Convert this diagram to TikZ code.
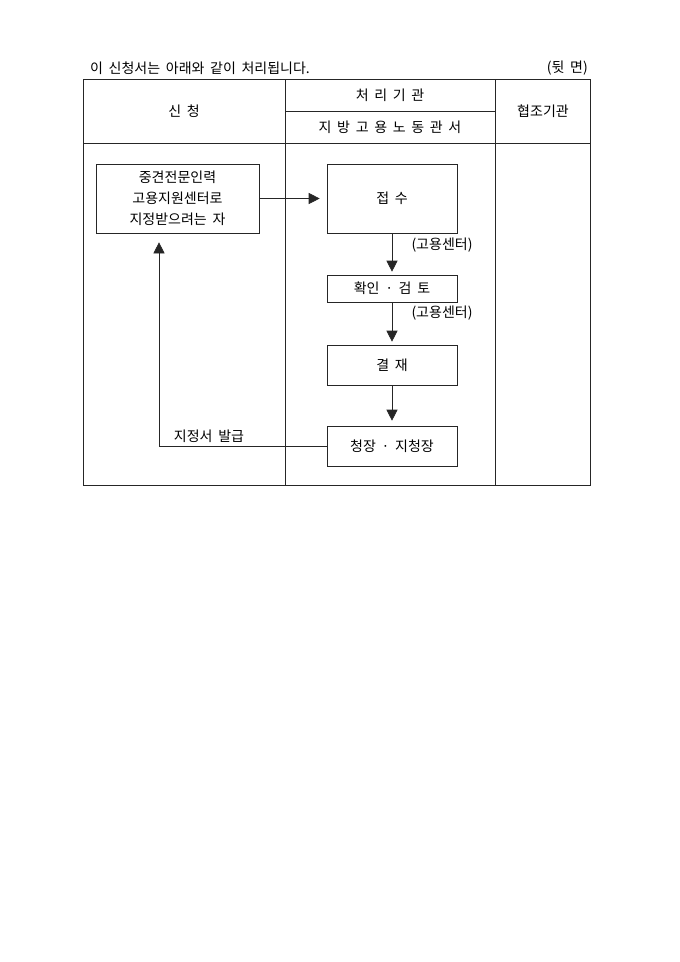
\documentclass[tikz,border=0pt]{standalone}
\usepackage{fontspec}
\setmainfont[WordSpace=1.8]{Noto Sans CJK KR}
\usepackage{tikz}
\usetikzlibrary{arrows.meta,positioning,calc}

\begin{document}
\begin{tikzpicture}
[x=1pt,y=-1pt,
every node/.style={inner sep=0pt,font=\fontsize{14}{16}\selectfont},
grid/.style={draw=black!85,line width=.6pt},
stepbox/.style={draw=black!85,line width=.6pt,minimum width=130pt,align=center},
flow/.style={draw=black!85,line width=.6pt,-{Triangle[length=11pt,width=11pt]}}]
\useasboundingbox (0,0) rectangle (680,962);
\node[anchor=west] (title) at (90,68) {이 신청서는 아래와 같이 처리됩니다.};
\node[anchor=east] (back) at (588,68) {(뒷 면)};
% table
\draw[grid] (83,79) rectangle (590,485);
\draw[grid] (285,79) -- (285,485);
\draw[grid] (495,79) -- (495,485);
\draw[grid] (83,143) -- (590,143);
\draw[grid] (285,111) -- (495,111);
\node (apply) at (184,111) {신 청};
\node (org) at (390,95) {처 리 기 관};
\node (office) at (390,127) {지 방 고 용 노 동 관 서};
\node (coop) at (543,111) {협조기관};
% boxes
\node[stepbox,minimum width=163pt,minimum height=69pt] (person) at (177.5,198.5)
{중견전문인력\\[5pt]고용지원센터로\\[5pt]지정받으려는 자};
\node[stepbox,minimum height=69pt] (recv) at (392,198.5) {접 수};
\node[stepbox,minimum height=27pt] (check) at (392,288.5) {확인 · 검 토};
\node[stepbox,minimum height=40pt] (sign) at (392,365) {결 재};
\node[stepbox,minimum height=40pt] (chief) at (392,446) {청장 · 지청장};
\node (c1) at (442,245) {(고용센터)};
\node (c2) at (442,313) {(고용센터)};
\node (issue) at (209,436) {지정서 발급};
% arrows
\draw[flow,shorten >=7pt] (person) -- (recv);
\draw[flow,shorten >=3pt] (recv) -- (check);
\draw[flow,shorten >=3pt] (check) -- (sign);
\draw[flow,shorten >=5pt] (sign) -- (chief);
\draw[flow,shorten >=9pt] (chief.west) -| ([xshift=-18.5pt]person.south);
\end{tikzpicture}
\end{document}
